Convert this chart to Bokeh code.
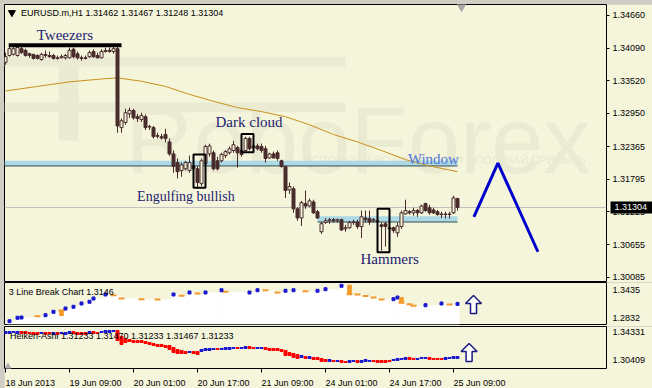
from bokeh.plotting import figure
from bokeh.layouts import column
from bokeh.models import Range1d, FixedTicker, NumeralTickFormatter, LinearAxis, Span
from bokeh.core.properties import value
from bokeh.embed import file_html
from bokeh.resources import INLINE

# ---------------- data ----------------
symbol = "EURUSD.m,H1"
opens = [
    1.3384, 1.3396, 1.3398, 1.3396, 1.3408, 1.3405, 1.3399, 1.3398, 1.3396, 1.3389,
    1.3398, 1.3396, 1.3396, 1.3392, 1.3392, 1.3392, 1.3392, 1.3407, 1.3399, 1.3392,
    1.3392, 1.3394, 1.3403, 1.3396, 1.3392, 1.3403, 1.3405, 1.3403, 1.3408, 1.3270,
    1.3279, 1.3294, 1.3300, 1.3289, 1.3284, 1.3289, 1.3272, 1.3270, 1.3256, 1.3254,
    1.3258, 1.3245, 1.3224, 1.3209, 1.3195, 1.3198, 1.3195, 1.3203, 1.3198, 1.3172,
    1.3207, 1.3224, 1.3226, 1.3212, 1.3212, 1.3221, 1.3226, 1.3230, 1.3235, 1.3230,
    1.3230, 1.3251, 1.3235, 1.3238, 1.3237, 1.3233, 1.3217, 1.3224, 1.3226, 1.3212,
    1.3202, 1.3161, 1.3163, 1.3128, 1.3112, 1.3137, 1.3133, 1.3140, 1.3123, 1.3088,
    1.3104, 1.3107, 1.3109, 1.3107, 1.3109, 1.3093, 1.3095, 1.3104, 1.3105, 1.3097,
    1.3112, 1.3111, 1.3107, 1.3105, 1.3100, 1.3102, 1.3095, 1.3095, 1.3086, 1.3097,
    1.3119, 1.3123, 1.3121, 1.3125, 1.3121, 1.3137, 1.3130, 1.3126, 1.3123, 1.3118,
    1.3119, 1.3118, 1.3121, 1.31462]
highs = [
    1.3401, 1.3412, 1.3412, 1.3412, 1.3412, 1.3408, 1.3401, 1.3399, 1.3398, 1.3401,
    1.3405, 1.3403, 1.3399, 1.3396, 1.3398, 1.3399, 1.3410, 1.3410, 1.3403, 1.3396,
    1.3396, 1.3405, 1.3407, 1.3401, 1.3407, 1.3410, 1.3410, 1.3412, 1.3412, 1.3286,
    1.3303, 1.3305, 1.3303, 1.3294, 1.3296, 1.3293, 1.3275, 1.3273, 1.3261, 1.3259,
    1.3268, 1.3251, 1.3230, 1.3216, 1.3209, 1.3212, 1.3221, 1.3216, 1.3203, 1.3216,
    1.3240, 1.3242, 1.3230, 1.3219, 1.3226, 1.3231, 1.3237, 1.3247, 1.3238, 1.3233,
    1.3254, 1.3254, 1.3244, 1.3242, 1.3242, 1.3238, 1.3226, 1.3228, 1.3230, 1.3214,
    1.3203, 1.3174, 1.3167, 1.3131, 1.3142, 1.3160, 1.3146, 1.3144, 1.3126, 1.3105,
    1.3112, 1.3112, 1.3112, 1.3111, 1.3111, 1.3100, 1.3107, 1.3109, 1.3109, 1.3125,
    1.3125, 1.3125, 1.3112, 1.3118, 1.3104, 1.3105, 1.3098, 1.3097, 1.3104, 1.3125,
    1.3144, 1.3126, 1.3130, 1.3128, 1.3135, 1.3139, 1.3135, 1.3130, 1.3126, 1.3123,
    1.3123, 1.3123, 1.3151, 1.31467]
lows = [
    1.3380, 1.3394, 1.3396, 1.3394, 1.3399, 1.3394, 1.3392, 1.3389, 1.3389, 1.3387,
    1.3392, 1.3392, 1.3389, 1.3389, 1.3391, 1.3389, 1.3391, 1.3391, 1.3389, 1.3387,
    1.3389, 1.3392, 1.3392, 1.3391, 1.3391, 1.3401, 1.3401, 1.3399, 1.3261, 1.3261,
    1.3275, 1.3287, 1.3284, 1.3280, 1.3280, 1.3266, 1.3266, 1.3251, 1.3251, 1.3249,
    1.3244, 1.3221, 1.3191, 1.3181, 1.3184, 1.3195, 1.3191, 1.3193, 1.3163, 1.3168,
    1.3203, 1.3219, 1.3195, 1.3195, 1.3209, 1.3217, 1.3223, 1.3226, 1.3200, 1.3219,
    1.3228, 1.3230, 1.3231, 1.3230, 1.3226, 1.3209, 1.3216, 1.3216, 1.3212, 1.3200,
    1.3147, 1.3154, 1.3121, 1.3107, 1.3098, 1.3128, 1.3131, 1.3119, 1.3111, 1.3084,
    1.3102, 1.3102, 1.3104, 1.3104, 1.3090, 1.3088, 1.3093, 1.3100, 1.3093, 1.3077,
    1.3104, 1.3100, 1.3104, 1.3100, 1.3055, 1.3062, 1.3090, 1.3086, 1.3079, 1.3093,
    1.3118, 1.3118, 1.3116, 1.3114, 1.3119, 1.3123, 1.3118, 1.3119, 1.3116, 1.3112,
    1.3111, 1.3111, 1.3119, 1.31248]
closes = [
    1.3394, 1.3408, 1.3408, 1.3410, 1.3401, 1.3396, 1.3396, 1.3391, 1.3391, 1.3398,
    1.3396, 1.3394, 1.3391, 1.3391, 1.3394, 1.3396, 1.3405, 1.3394, 1.3392, 1.3391,
    1.3391, 1.3401, 1.3394, 1.3392, 1.3403, 1.3405, 1.3403, 1.3408, 1.3273, 1.3282,
    1.3296, 1.3300, 1.3287, 1.3286, 1.3291, 1.3270, 1.3271, 1.3254, 1.3255, 1.3252,
    1.3251, 1.3224, 1.3202, 1.3193, 1.3205, 1.3209, 1.3209, 1.3198, 1.3174, 1.3212,
    1.3237, 1.3238, 1.3198, 1.3198, 1.3223, 1.3228, 1.3233, 1.3240, 1.3226, 1.3223,
    1.3251, 1.3233, 1.3238, 1.3233, 1.3230, 1.3216, 1.3224, 1.3217, 1.3216, 1.3202,
    1.3160, 1.3167, 1.3128, 1.3112, 1.3139, 1.3133, 1.3142, 1.3121, 1.3112, 1.3102,
    1.3107, 1.3109, 1.3107, 1.3109, 1.3091, 1.3095, 1.3104, 1.3105, 1.3097, 1.3114,
    1.3109, 1.3105, 1.3109, 1.3107, 1.3097, 1.3097, 1.3093, 1.3090, 1.3098, 1.3121,
    1.3125, 1.3121, 1.3125, 1.3121, 1.3133, 1.3125, 1.3121, 1.3121, 1.3118, 1.3119,
    1.3118, 1.3119, 1.3147, 1.31304]

time_ticks = [0, 16, 32, 48, 64, 80, 96, 112]
time_labels = ["18 Jun 2013", "19 Jun 09:00", "20 Jun 01:00", "20 Jun 17:00",
               "21 Jun 09:00", "24 Jun 01:00", "24 Jun 17:00", "25 Jun 09:00"]
price_ticks = [1.34660, 1.34090, 1.33520, 1.32950, 1.32365, 1.31795, 1.31225, 1.30655, 1.30085]

ma_bar = [0, 8, 16, 24, 28, 34, 40, 46, 52, 58, 64, 70, 76, 82, 88, 94, 100, 106, 113]
ma_val = [1.3334, 1.3342, 1.3350, 1.3355, 1.3357, 1.3351, 1.3342, 1.3328, 1.3316, 1.3305,
          1.3298, 1.3289, 1.3275, 1.3258, 1.3245, 1.3230, 1.3214, 1.3203, 1.3193]

# support bands ("Window" and lower consolidation)
band_left = [-0.25, 78]
band_right = [113, 113]
band_top = [1.3212, 1.3115]
band_bottom = [1.3203, 1.3105]

# pattern boxes: engulfing, dark cloud, hammers
box_left = [47, 59, 93]
box_right = [50, 62, 96]
box_top = [1.3223, 1.3259, 1.3128]
box_bottom = [1.3165, 1.3227, 1.3052]

tweezers_bar = [0.8, 29]
tweezers_level = 1.3414

note_text = ["Tweezers", "Dark cloud", "Engulfing bullish", "Hammers", "Window"]
note_bar = [7.8, 52.5, 32.9, 88.75, 100.6]
note_price = [1.3432, 1.3280, 1.3149, 1.3041, 1.3215]
note_size = ["15px", "15px", "14px", "15px", "15px"]
note_color = ["#1C1C70", "#1C1C70", "#1C1C70", "#1C1C70", "#4F74D8"]

forecast_bar = [117.1, 123.1, 133.1]
forecast_price = [1.3114, 1.3208, 1.3053]

# watermark logo pieces
wm_text = "RoboForex"
wm_slogan = "ИСПОЛЬЗУЙ ВОЗМОЖНОСТИ – ПОЛУЧАЙ ПРИБЫЛЬ"

# 3 Line Break panel
lb_value = 1.3146
lb_ticks = [1.3435, 1.2832]
lb_bar = [1, 3, 4, 8, 10, 12, 14, 15, 17, 19, 21, 22, 25, 27, 29, 34, 38, 42, 44, 46,
          48, 50, 54, 55, 61, 63, 65, 68, 70, 72, 75, 78, 80, 84, 86, 88, 90, 92, 94, 97,
          98, 99, 101, 102, 105, 109, 111, 113]
lb_val = [1.2774, 1.2847, 1.2853, 1.2881, 1.2903, 1.2976, 1.3004, 1.3047, 1.3084, 1.3155,
          1.3192, 1.3263, 1.3349, 1.3334, 1.3263, 1.3248, 1.3241, 1.3349, 1.3321, 1.3392,
          1.3370, 1.3392, 1.3441, 1.3407, 1.3392, 1.3441, 1.3441, 1.3392, 1.3429, 1.3441,
          1.3420, 1.3429, 1.3463, 1.3536, 1.3355, 1.3349, 1.3317, 1.3284, 1.3241, 1.3248,
          1.3284, 1.3170, 1.3140, 1.3105, 1.3118, 1.3155, 1.3133, 1.3146]
lb_dir = "bbbobbobbb" "bbboooobob" "obbobboobb" "obbbooooob" "booobbob"
lb_block_bar = [14, 86, 99]
lb_block_top = [1.3004, 1.3549, 1.3284]
lb_block_bottom = [1.2896, 1.3355, 1.3170]

# Heiken-Ashi panel
ha_values = [1.31233, 1.31470, 1.31233, 1.31467, 1.31233]
ha_ticks = [1.34331, 1.30409]
ha_top = [
    1.3443, 1.3443, 1.3443, 1.3443, 1.3443, 1.3443, 1.3429, 1.3429, 1.3429, 1.3429,
    1.3429, 1.3429, 1.3429, 1.3429, 1.3429, 1.3429, 1.3443, 1.3443, 1.3429, 1.3429,
    1.3429, 1.3443, 1.3443, 1.3429, 1.3443, 1.3457, 1.3457, 1.3457, 1.3457, 1.3374,
    1.3346, 1.3332, 1.3318, 1.3318, 1.3318, 1.3304, 1.3290, 1.3277, 1.3263, 1.3263,
    1.3249, 1.3249, 1.3221, 1.3193, 1.3180, 1.3166, 1.3166, 1.3166, 1.3166, 1.3193,
    1.3207, 1.3207, 1.3207, 1.3207, 1.3207, 1.3221, 1.3221, 1.3221, 1.3221, 1.3221,
    1.3235, 1.3235, 1.3221, 1.3221, 1.3221, 1.3221, 1.3207, 1.3207, 1.3207, 1.3193,
    1.3180, 1.3152, 1.3138, 1.3124, 1.3110, 1.3096, 1.3096, 1.3083, 1.3083, 1.3069,
    1.3055, 1.3055, 1.3041, 1.3041, 1.3041, 1.3027, 1.3041, 1.3041, 1.3041, 1.3041,
    1.3055, 1.3041, 1.3041, 1.3041, 1.3041, 1.3041, 1.3041, 1.3055, 1.3069, 1.3069,
    1.3083, 1.3083, 1.3069, 1.3069, 1.3083, 1.3083, 1.3083, 1.3069, 1.3069, 1.3069,
    1.3083, 1.3083, 1.3096, 1.3096]
ha_bottom = [
    1.3415, 1.3415, 1.3429, 1.3415, 1.3415, 1.3415, 1.3415, 1.3401, 1.3401, 1.3415,
    1.3401, 1.3415, 1.3401, 1.3401, 1.3415, 1.3401, 1.3415, 1.3415, 1.3401, 1.3401,
    1.3401, 1.3415, 1.3415, 1.3415, 1.3429, 1.3429, 1.3429, 1.3443, 1.3318, 1.3263,
    1.3290, 1.3304, 1.3290, 1.3290, 1.3290, 1.3277, 1.3263, 1.3249, 1.3235, 1.3235,
    1.3221, 1.3193, 1.3152, 1.3138, 1.3138, 1.3138, 1.3152, 1.3138, 1.3124, 1.3166,
    1.3180, 1.3180, 1.3193, 1.3193, 1.3193, 1.3193, 1.3193, 1.3207, 1.3207, 1.3207,
    1.3207, 1.3207, 1.3207, 1.3207, 1.3207, 1.3193, 1.3180, 1.3180, 1.3180, 1.3166,
    1.3110, 1.3110, 1.3083, 1.3069, 1.3083, 1.3069, 1.3069, 1.3055, 1.3055, 1.3027,
    1.3027, 1.3027, 1.3027, 1.3027, 1.3013, 1.3013, 1.3013, 1.3027, 1.3013, 1.3013,
    1.3027, 1.3027, 1.3027, 1.3013, 1.3013, 1.3013, 1.3027, 1.3041, 1.3041, 1.3055,
    1.3055, 1.3055, 1.3055, 1.3055, 1.3069, 1.3069, 1.3055, 1.3055, 1.3055, 1.3055,
    1.3055, 1.3069, 1.3069, 1.3069]
ha_dir = ("bbbbrrrrrbrrbrbbbrrrrbrrbbbb" "rrrrrrrrrrrrrrrrrr" "brr" "bbbb"
          "rbbbbrbbrrbbr" "rrrrrrrr" "brbrrrrbrbrrbbrbbbrrrrr" "bbbbrrbbbrrrrbbbb")

# up-arrows in the sub panels: centre bar, tip, neck, tail
arrow2 = [117.0, 1.3327, 1.3155, 1.2940]
arrow3 = [115.9, 1.3276, 1.3166, 1.3027]

# ---------------- style ----------------
BG = "#F5F5DC"
WM = "#EBEBD3"
DARK = "#4A2C2C"
UI_FONT = "Liberation Sans"
bars = list(range(len(closes)))
xr = Range1d(-0.25, 150.25)
# time labels are drawn left-aligned from their tick: centre offset in bars
label_shift = [6.2, 6.5, 6.5, 6.5, 6.5, 6.5, 6.5, 6.5]


def make_fig(frame_h, y0, y1, bottom_border, below=False):
    f = figure(frame_width=602, frame_height=frame_h, x_range=xr,
               y_range=Range1d(y0, y1),
               x_axis_location="below" if below else None,
               y_axis_location="right",
               output_backend="svg", toolbar_location=None,
               min_border=0, min_border_right=46, min_border_bottom=bottom_border,
               background_fill_color=BG, border_fill_color=BG,
               outline_line_color="black", outline_line_width=1)
    f.grid.visible = False
    return f


def style_y(ax, ticks, fmt, tick_out):
    ax.ticker = FixedTicker(ticks=ticks)
    ax.formatter = NumeralTickFormatter(format=fmt)
    ax.axis_line_color = None
    ax.major_tick_in = 0
    ax.major_tick_out = tick_out
    ax.minor_tick_in = 0
    ax.minor_tick_out = 0
    ax.major_tick_line_color = "black" if tick_out else None
    ax.major_label_text_font = UI_FONT
    ax.major_label_text_font_size = "9px"
    ax.major_label_text_color = "black"
    ax.major_label_standoff = 3 if tick_out else 6


# ---------------- main panel ----------------
f1 = make_fig(277, 1.30010, 1.34852, 1)
style_y(f1.yaxis[0], price_ticks, "0.00000", 3)

# current price tag on the price scale: a second, zero-width axis whose single
# tick is drawn as a thick black bar behind a white label
tag = LinearAxis(ticker=FixedTicker(ticks=[closes[-1]]),
                 formatter=NumeralTickFormatter(format="0.00000"))
tag.axis_line_color = None
tag.major_tick_out = 5
tag.major_tick_in = 38
tag.major_tick_line_width = 12
tag.major_tick_line_color = "black"
tag.major_tick_line_cap = "butt"
tag.minor_tick_in = 0
tag.minor_tick_out = 0
tag.major_label_text_font = UI_FONT
tag.major_label_text_font_size = "9px"
tag.major_label_text_color = "white"
tag.major_label_standoff = -39
f1.add_layout(tag, "right")

# faint watermark
f1.quad(left=[-0.25, -0.25, 13.25], right=[85, 85, 18.25], top=[1.3394, 1.3314, 1.3394],
        bottom=[1.3377, 1.3297, 1.3247], fill_color=WM, line_color=None)
f1.text(x=[30], y=[1.3247], text=[wm_text], text_font=value("Liberation Sans"),
        text_font_size="94px", text_color=WM, text_baseline="alphabetic")
f1.text(x=[74.5], y=[1.3214], text=[wm_slogan], text_font=value("Liberation Sans"),
        text_font_size="11px", text_color="#E8E8D1", text_baseline="alphabetic")

f1.add_layout(Span(location=closes[-1], dimension="width", line_color="#C0C0C0",
                   line_width=1, level="underlay"))

f1.quad(left=band_left, right=band_right, top=band_top, bottom=band_bottom,
        fill_color="#ADD8E6", line_color=None)
f1.segment(x0=band_left, y0=band_bottom, x1=band_right, y1=band_bottom,
           line_color="#2F4F4F", line_width=1)

f1.line(ma_bar, ma_val, line_color="#C8901A", line_width=1)

body_top = [max(o, c) for o, c in zip(opens, closes)]
body_bot = [min(o, c) for o, c in zip(opens, closes)]
body_fill = [BG if c >= o else DARK for o, c in zip(opens, closes)]
f1.segment(x0=bars, y0=lows, x1=bars, y1=highs, line_color=DARK, line_width=1)
f1.vbar(x=bars, width=0.75, top=body_top, bottom=body_bot, fill_color=body_fill,
        line_color=DARK, line_width=1)

f1.quad(left=box_left, right=box_right, top=box_top, bottom=box_bottom,
        fill_color=None, line_color="black", line_width=2)
f1.line(tweezers_bar, [tweezers_level, tweezers_level], line_color="black", line_width=4)

for t, xb, yp, fs, col in zip(note_text, note_bar, note_price, note_size, note_color):
    f1.text(x=[xb], y=[yp], text=[t], text_font=value("Liberation Serif"),
            text_font_size=fs, text_color=col, text_baseline="alphabetic")

f1.line(forecast_bar, forecast_price, line_color="#0000CD", line_width=3)

# header
f1.scatter(x=[1.6], y=[1.3471], marker="inverted_triangle", size=7, color="black")
header = "%s  %.5f %.5f %.5f %.5f" % (symbol, opens[-1], highs[-1], lows[-1], closes[-1])
f1.text(x=[3.9], y=[1.3470], text=[header], text_font=value(UI_FONT), text_font_size="9px",
        text_color="black", text_baseline="middle")
f1.scatter(x=[114], y=[1.3482], marker="inverted_triangle", size=9, color="#A8A8A8")

# ---------------- 3 line break panel ----------------
f2 = make_fig(42, 1.27026, 1.36073, 2)
style_y(f2.yaxis[0], lb_ticks, "0.0000", 0)
lb_right = [b - 0.5 for b in lb_bar[1:]] + [lb_bar[-1] + 0.5]
f2.quad(left=[b - 0.5 for b in lb_bar], right=lb_right, top=lb_val,
        bottom=[1.27026] * len(lb_val), fill_color="white", line_color=None)
ups = [i for i, d in enumerate(lb_dir) if d == "b"]
dns = [i for i, d in enumerate(lb_dir) if d == "o"]
f2.scatter(x=[lb_bar[i] for i in dns], y=[lb_val[i] for i in dns], marker="dash",
           size=6, line_color="#F39A2E", line_width=2)
f2.scatter(x=[lb_bar[i] for i in ups], y=[lb_val[i] for i in ups], marker="square",
           size=3, color="#1A1AD0")
f2.vbar(x=lb_block_bar, width=0.9, top=lb_block_top, bottom=lb_block_bottom,
        color="#F39A2E")
f2.text(x=[0.8], y=[1.3403], text=["3 Line Break Chart %.4f" % lb_value],
        text_font=value(UI_FONT), text_font_size="9px", text_color="black",
        text_baseline="middle")
c, tip, neck, tail = arrow2
f2.patch([c, c + 2, c + 0.75, c + 0.75, c - 0.75, c - 0.75, c - 2],
         [tip, neck, neck, tail, tail, neck, neck],
         fill_color="white", line_color="#1A1A80", line_width=1.5)

# ---------------- Heiken-Ashi panel ----------------
f3 = make_fig(42, 1.29300, 1.35121, 18, below=True)
style_y(f3.yaxis[0], ha_ticks, "0.00000", 0)
label_pos = [t + s for t, s in zip(time_ticks, label_shift)]
xa = f3.xaxis[0]
xa.ticker = FixedTicker(ticks=label_pos, minor_ticks=time_ticks)
xa.major_label_overrides = {p: l for p, l in zip(label_pos, time_labels)}
xa.axis_line_color = None
xa.major_tick_in = 0
xa.major_tick_out = 0
xa.major_tick_line_color = None
xa.minor_tick_in = 0
xa.minor_tick_out = 4
xa.minor_tick_line_color = "black"
xa.major_label_text_font = UI_FONT
xa.major_label_text_font_size = "9px"
xa.major_label_text_color = "black"
xa.major_label_standoff = 5

ha_col = ["#1A1AD0" if d == "b" else "#FF0000" for d in ha_dir]
f3.vbar(x=bars, width=0.75, top=ha_top, bottom=ha_bottom, color=ha_col)
f3.text(x=[1.1], y=[1.3378],
        text=["Heiken-Ashi " + " ".join("%.5f" % v for v in ha_values)],
        text_font=value(UI_FONT), text_font_size="9px", text_color="black",
        text_baseline="middle")
c, tip, neck, tail = arrow3
f3.patch([c, c + 2, c + 0.75, c + 0.75, c - 0.75, c - 0.75, c - 2],
         [tip, neck, neck, tail, tail, neck, neck],
         fill_color="white", line_color="#1A1A80", line_width=1.5)
f3.scatter(x=[0.6], y=[1.2955], marker="triangle", size=6, color="#B0B0B0")

layout = column(f1, f2, f3, styles={"background-color": "#D0CEC4",
                                    "padding": "4px 0px 2px 4px"})

with open("out.html", "w") as fh:
    fh.write(file_html(layout, INLINE))
